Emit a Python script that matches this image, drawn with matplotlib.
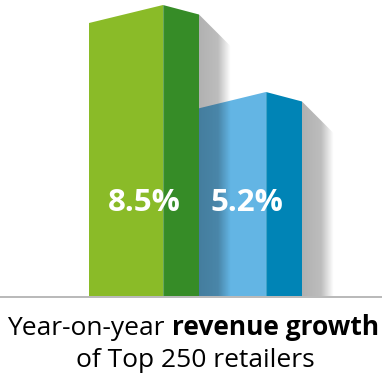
import matplotlib
matplotlib.use("Agg")
import matplotlib.pyplot as plt
from matplotlib.patches import Polygon
import numpy as np

# growth values (percent) and their colours
labels = ["8.5%", "5.2%"]
values = [8.5, 5.2]
front_colors = ["#8abb28", "#63b5e4"]
side_colors = ["#368c27", "#0084b6"]

W, H = 382, 376
fig = plt.figure(figsize=(W / 100, H / 100), dpi=100)
BASE_PX = 80                      # space under the baseline for the caption
ax = fig.add_axes([0, BASE_PX / H, 1, (H - BASE_PX) / H])
FLOOR, TOP = -2.54, 8.69
ax.set_xlim(0, W)
ax.set_ylim(FLOOR, TOP)
ax.axis("off")

upx = (TOP - FLOOR) / (H - BASE_PX)   # data units per pixel (vertical)

FRONT_W, SIDE_W, SHADOW_W = 74, 36, 32
DIP, DROP = 18 * upx, 9.5 * upx

# shadow: black with an alpha that fades out to the right
t = np.linspace(0, 1, 64)
alpha = np.where(t < 0.6, 0.31 - 0.08 * t, (0.31 - 0.048) * (1 - (t - 0.6) / 0.4))
shade = np.zeros((1, len(t), 4))
shade[0, :, 3] = alpha

for i, (v, fc, sc, lab) in enumerate(zip(values, front_colors, side_colors, labels)):
    x0 = 89 + i * 103
    x1 = x0 + FRONT_W
    x2 = x1 + SIDE_W
    z = 4 - 2 * i
    ax.add_patch(Polygon([(x0, FLOOR), (x1, FLOOR), (x1, v), (x0, v - DIP)],
                         closed=True, fc=fc, ec="none", zorder=z))
    ax.add_patch(Polygon([(x1, FLOOR), (x2, FLOOR), (x2, v - DROP), (x1, v)],
                         closed=True, fc=sc, ec="none", zorder=z))
    ax.plot([x1, x1], [FLOOR, v], color="white", alpha=0.25, lw=0.8, zorder=z)
    st = v - DROP
    sh = Polygon([(x2, st), (x2 + SHADOW_W, st - SHADOW_W * upx),
                  (x2 + SHADOW_W, FLOOR), (x2, FLOOR)],
                 closed=True, fc="none", ec="none")
    ax.add_patch(sh)
    im = ax.imshow(shade, extent=[x2, x2 + SHADOW_W, FLOOR, st], aspect="auto",
                   interpolation="bilinear", zorder=z - 1)
    im.set_clip_path(sh)
    ax.text(x0 + 55, 0.98, lab, ha="center", va="center", color="white",
            fontsize=22.5, fontweight="bold", family="Open Sans", zorder=10)

ax.axhline(FLOOR - 1.2 * upx, color="#b3b3b3", lw=1.3, zorder=0, clip_on=False)

# caption, first line mixes regular and bold
fs = 19
r = fig.canvas.get_renderer()
t1 = fig.text(0, 0, "Year-on-year ", fontsize=fs, family="Open Sans")
t2 = fig.text(0, 0, "revenue growth", fontsize=fs, family="Open Sans", fontweight="bold")
w1 = t1.get_window_extent(r).width
w2 = t2.get_window_extent(r).width
x_start = 193 - (w1 + w2) / 2
y1 = 1 - 335 / H
t1.set_position((x_start / W, y1))
t2.set_position(((x_start + w1) / W, y1))
t1.set_va("baseline"); t2.set_va("baseline")
fig.text(195 / W, 1 - 367 / H, "of Top 250 retailers", fontsize=fs,
         family="Open Sans", ha="center", va="baseline", color="#000000")

fig.savefig("out.png", dpi=100)
